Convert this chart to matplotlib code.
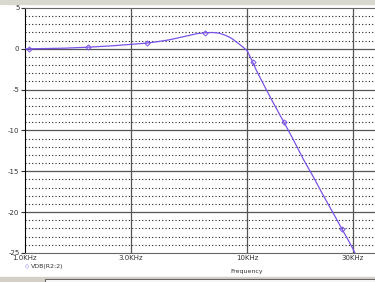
import matplotlib
matplotlib.use("Agg")
import matplotlib.pyplot as plt
import numpy as np
from matplotlib.patches import Rectangle

# frequency in kHz, response in dB
freq_khz = [1.0, 1.04, 1.5, 1.92, 2.5, 3.0, 3.54, 4.0, 4.5, 5.0, 5.5, 6.0, 6.5, 7.0,
            7.5, 8.0, 8.5, 9.0, 9.5, 10.0, 10.6, 11.0, 12.0, 13.0, 14.0, 14.6, 16.0,
            18.0, 20.0, 22.0, 25.0, 26.8, 28.0, 30.0, 31.0]
vdb = [0.0, 0.0, 0.08, 0.2, 0.38, 0.55, 0.7, 0.9, 1.12, 1.4, 1.65, 1.88, 1.97, 2.0,
       1.92, 1.65, 1.3, 0.8, 0.3, -0.2, -1.6, -2.6, -4.6, -6.4, -8.0, -8.9, -10.9,
       -13.6, -15.8, -17.9, -20.6, -22.1, -23.0, -24.5, -25.3]
marker_khz = [1.04, 1.92, 3.54, 6.5, 10.6, 14.6, 26.8]

xticks = [1.0, 3.0, 10.0, 30.0]
xtick_labels = ["1.0KHz", "3.0KHz", "10KHz", "30KHz"]
yticks = [5, 0, -5, -10, -15, -20, -25]
trace_name = "VDB(R2:2)"

fig = plt.figure(figsize=(3.75, 2.82), dpi=100)
ax = fig.add_axes([25 / 375, 29 / 282, 350 / 375, 245 / 282])

line_col = "#7a52e8"
mark_idx = [freq_khz.index(f) for f in marker_khz]
ax.plot(freq_khz, vdb, color=line_col, lw=0.9, marker="D", ms=2.6,
        mfc="none", mec=line_col, mew=0.7, markevery=mark_idx, zorder=5,
        clip_on=True)

ax.set_xscale("log")
ax.set_xlim(1.0, 37.7)
ax.set_ylim(-25, 5)

# grid like PSpice: dotted every 1 dB, solid every 5 dB
for v in range(-24, 5):
    if v % 5 != 0:
        ax.axhline(v, color="#222222", lw=0.8, ls=(0, (1, 2)), zorder=1)
for v in [-20, -15, -10, -5, 0]:
    ax.axhline(v, color="#555555", lw=0.9, zorder=2)
for f in xticks[1:]:
    ax.axvline(f, color="#555555", lw=0.9, zorder=2)

ax.set_xticks(xticks)
ax.set_xticklabels(xtick_labels)
ax.minorticks_off()
ax.set_yticks(yticks)
ax.set_yticklabels([str(t) for t in yticks])
ax.tick_params(axis="x", length=0, pad=1.5, labelsize=5, colors="#333333")
ax.tick_params(axis="y", length=3, width=0.8, pad=1, labelsize=5, colors="#333333")

ax.spines["right"].set_visible(False)
ax.spines["left"].set_color("black")
ax.spines["bottom"].set_color("#666666")
ax.spines["top"].set_color("#666666")

# legend and axis title
fig.text(27 / 375, 1 - 266.5 / 282, "\u25C7", color=line_col, fontsize=4,
         ha="center", va="center")
fig.text(31 / 375, 1 - 266.5 / 282, trace_name, fontsize=4.5, color="#333333",
         ha="left", va="center")
fig.text(247 / 375, 1 - 272 / 282, "Frequency", fontsize=4.5, color="#333333",
         ha="center", va="center")

# window chrome bits
fig.patches.append(Rectangle((0, 1 - 4 / 282), 1, 4 / 282, transform=fig.transFigure,
                             color="#d8d8d0", zorder=0))
fig.patches.append(Rectangle((0, 0), 1, 5 / 282, transform=fig.transFigure,
                             color="#d4d0c8", zorder=0))
fig.patches.append(Rectangle((45 / 375, 0), 330 / 375, 3 / 282, transform=fig.transFigure,
                             facecolor="white", edgecolor="#666666", lw=0.8, zorder=1))

fig.savefig("out.png", dpi=100)
